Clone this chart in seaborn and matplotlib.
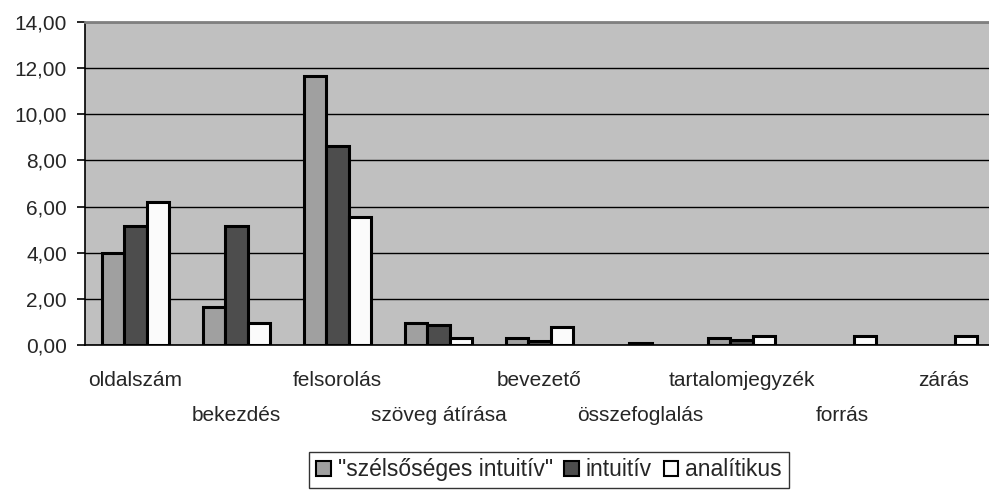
import numpy as np
import pandas as pd
import matplotlib
matplotlib.use("Agg")
import matplotlib.pyplot as plt
import seaborn as sns

categories = ["oldalszám", "bekezdés", "felsorolás", "szöveg átírása", "bevezető",
              "összefoglalás", "tartalomjegyzék", "forrás", "zárás"]
series = ['"szélsőséges intuitív"', "intuitív", "analítikus"]
szelsoseges = [4.00, 1.63, 11.68, 0.94, 0.29, 0.00, 0.29, 0.00, 0.00]
intuitiv = [5.16, 5.16, 8.64, 0.87, 0.19, 0.08, 0.20, 0.00, 0.00]
analitikus = [6.21, 0.94, 5.56, 0.29, 0.78, 0.00, 0.39, 0.39, 0.39]
colors = ["#a0a0a0", "#4d4d4d", "#fbfbfb"]

df = pd.DataFrame({
    "kategoria": categories * 3,
    "csoport": [series[0]] * 9 + [series[1]] * 9 + [series[2]] * 9,
    "ertek": szelsoseges + intuitiv + analitikus,
})

sns.set_style("white")
plt.rcParams["font.family"] = ["Liberation Sans", "DejaVu Sans"]

fig = plt.figure(figsize=(9.89, 4.90), dpi=100)
ax = fig.add_axes([0.086, 0.296, 0.919, 0.659])
ax.set_facecolor("#c0c0c0")

sns.barplot(data=df, x="kategoria", y="ertek", hue="csoport", order=categories,
            hue_order=series, palette=colors, width=0.66, edgecolor="black",
            linewidth=2.2, saturation=1, ax=ax)

# hide outlines of empty bars
for p in ax.patches:
    if p.get_height() == 0:
        p.set_linewidth(0)

ax.set_xlim(-0.5, len(categories) - 0.5)
ax.set_ylim(0, 14)
ax.set_yticks(np.arange(0, 15, 2))
ax.set_yticklabels([f"{v:.2f}".replace(".", ",") for v in np.arange(0, 15, 2)], fontsize=15)
ax.yaxis.grid(True, color="black", linewidth=1)
ax.set_axisbelow(True)
ax.tick_params(axis="y", left=True, length=6, width=1.2, color="black", pad=7)

ax.set_xticks(range(len(categories)))
ax.set_xticklabels(categories, fontsize=15)
ax.set_xticks(np.arange(-0.5, len(categories), 1), minor=True)
ax.tick_params(axis="x", which="major", length=0)
ax.tick_params(axis="x", which="minor", length=7, width=1.2, color="black")
for i, t in enumerate(ax.xaxis.get_major_ticks()):
    t.set_pad(19 if i % 2 == 0 else 44)

ax.set_xlabel("")
ax.set_ylabel("")
ax.spines["left"].set_color("black")
ax.spines["left"].set_linewidth(1.2)
ax.spines["bottom"].set_color("black")
ax.spines["bottom"].set_linewidth(1.2)
ax.spines["top"].set_color("#808080")
ax.spines["top"].set_linewidth(2)
ax.spines["right"].set_visible(False)

ax.legend_.remove()
handles, labels = ax.get_legend_handles_labels()
leg = fig.legend(handles, labels, loc="center", bbox_to_anchor=(0.555, 0.041), ncol=3,
                 fontsize=16.5, frameon=True, fancybox=False, edgecolor="black",
                 handlelength=0.65, handleheight=0.65, handletextpad=0.3,
                 columnspacing=0.5, borderpad=0.3)
leg.get_frame().set_linewidth(1)
for h in leg.legend_handles:
    h.set_edgecolor("black")
    h.set_linewidth(1.5)

fig.savefig("out.png", dpi=100, facecolor="white")
